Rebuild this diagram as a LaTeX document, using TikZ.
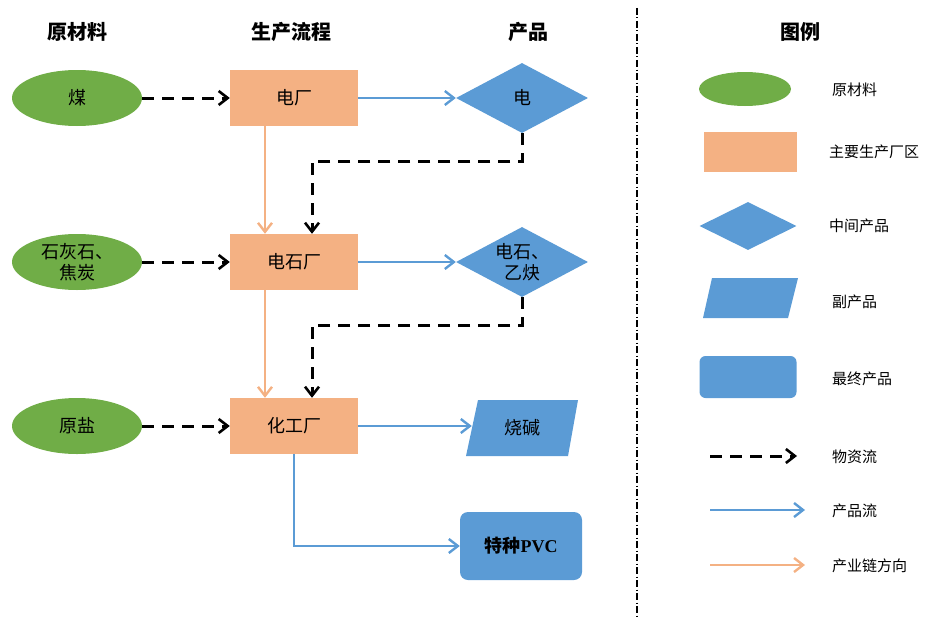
\documentclass[tikz,border=0pt]{standalone}
\usepackage{fontspec}
\setmainfont{Liberation Serif}
\newfontfamily\cjk{Noto Sans CJK SC}
\usetikzlibrary{shapes.geometric,arrows.meta}
\definecolor{gr}{HTML}{70AD47}
\definecolor{orb}{HTML}{F4B183}
\definecolor{bl}{HTML}{5B9BD5}
\begin{document}
\begin{tikzpicture}[x=1pt,y=-1pt,
  every node/.style={font=\cjk\fontsize{18}{21}\selectfont, inner sep=0pt, align=center},
  raw/.style={ellipse, fill=gr, minimum width=130, minimum height=56},
  plant/.style={rectangle, fill=orb, minimum width=128, minimum height=56},
  mid/.style={diamond, fill=bl, minimum width=132, minimum height=70, aspect=1.9},
  byp/.style={rectangle, minimum width=100, minimum height=56},
  fin/.style={rectangle, rounded corners=8, fill=bl, minimum width=122, minimum height=68},
  hdr/.style={font=\cjk\bfseries\fontsize{20}{23}\selectfont},
  lg/.style={font=\cjk\fontsize{15}{18}\selectfont, anchor=west},
  mflow/.style={black, line width=3, dash pattern=on 12 off 8, -{Straight Barb[length=9,width=14,line width=2.6]}},
  pflow/.style={bl, line width=2.6, -{Straight Barb[length=9,width=14,line width=2.4]}},
  cflow/.style={orb, line width=2.6, -{Straight Barb[length=9,width=14,line width=2.4]}}
]
\useasboundingbox (0,0) rectangle (939,618);
% headers
\node[hdr] (h1) at (77,32) {原材料};
\node[hdr] (h2) at (291,32) {生产流程};
\node[hdr] (h3) at (528,32) {产品};
\node[hdr] (h4) at (800,32) {图例};
% raw materials
\node[raw] (coal) at (77,98) {煤};
\node[raw] (lime) at (77,262) {石灰石、\\焦炭};
\node[raw] (salt) at (77,426) {原盐};
% plants
\node[plant] (pp) at (294,98) {电厂};
\node[plant] (cc) at (294,262) {电石厂};
\node[plant] (ch) at (294,426) {化工厂};
% products
\node[mid] (el) at (522,98) {电};
\node[mid] (ca) at (522,262) {电石、\\乙炔};
\fill[bl] (466,456) -- (478,400) -- (578,400) -- (568,456) -- cycle;
\node[byp] (so) at (522,428) {烧碱};
\node[fin] (pvc) at (521,546) {\bfseries 特种{\rmfamily\bfseries PVC}};
% material flows
\draw[mflow] (coal.east) -- (pp.west);
\draw[mflow] (lime.east) -- (cc.west);
\draw[mflow] (salt.east) -- (ch.west);
\draw[mflow] (el.south) -- ++(0,28) -| ([xshift=18]cc.north);
\draw[mflow] (ca.south) -- ++(0,28) -| ([xshift=18]ch.north);
% chain direction
\draw[cflow] ([xshift=-29]pp.south) -- ([xshift=-29]cc.north);
\draw[cflow] ([xshift=-29]cc.south) -- ([xshift=-29]ch.north);
% product flows
\draw[pflow] (pp.east) -- (el.west);
\draw[pflow] (cc.east) -- (ca.west);
\draw[pflow] (ch.east) -- (ch.east -| so.west);
\draw[pflow] (ch.south) |- (pvc.west);
% separator
\draw[line width=1.8, dash pattern=on 7 off 2.5 on 1 off 2.5] (637,8) -- (637,618);
% legend
\node[raw, minimum width=92, minimum height=34] (l1) at (745,89) {};
\node[plant, minimum width=93, minimum height=40] (l2) at (750,152) {};
\node[mid, minimum width=97, minimum height=48] (l3) at (748,226) {};
\fill[bl] (703,318) -- (712,278) -- (798,278) -- (788,318) -- cycle;
\node[byp, minimum width=85, minimum height=40] (l4) at (750,298) {};
\node[fin, minimum width=97, minimum height=42, rounded corners=6] (l5) at (748,377) {};
\coordinate (a1) at (710,456); \coordinate (b1) at (797,456);
\coordinate (a2) at (710,510); \coordinate (b2) at (805,510);
\coordinate (a3) at (710,565); \coordinate (b3) at (805,565);
\draw[mflow] (a1) -- (b1);
\draw[pflow] (a2) -- (b2);
\draw[cflow] (a3) -- (b3);
\node[lg] (t1) at (832,90) {原材料};
\node[lg] (t2) at (829,152) {主要生产厂区};
\node[lg] (t3) at (829,226) {中间产品};
\node[lg] (t4) at (832,302) {副产品};
\node[lg] (t5) at (832,379) {最终产品};
\node[lg] (t6) at (832,457) {物资流};
\node[lg] (t7) at (832,511) {产品流};
\node[lg] (t8) at (832,566) {产业链方向};
\end{tikzpicture}
\end{document}
